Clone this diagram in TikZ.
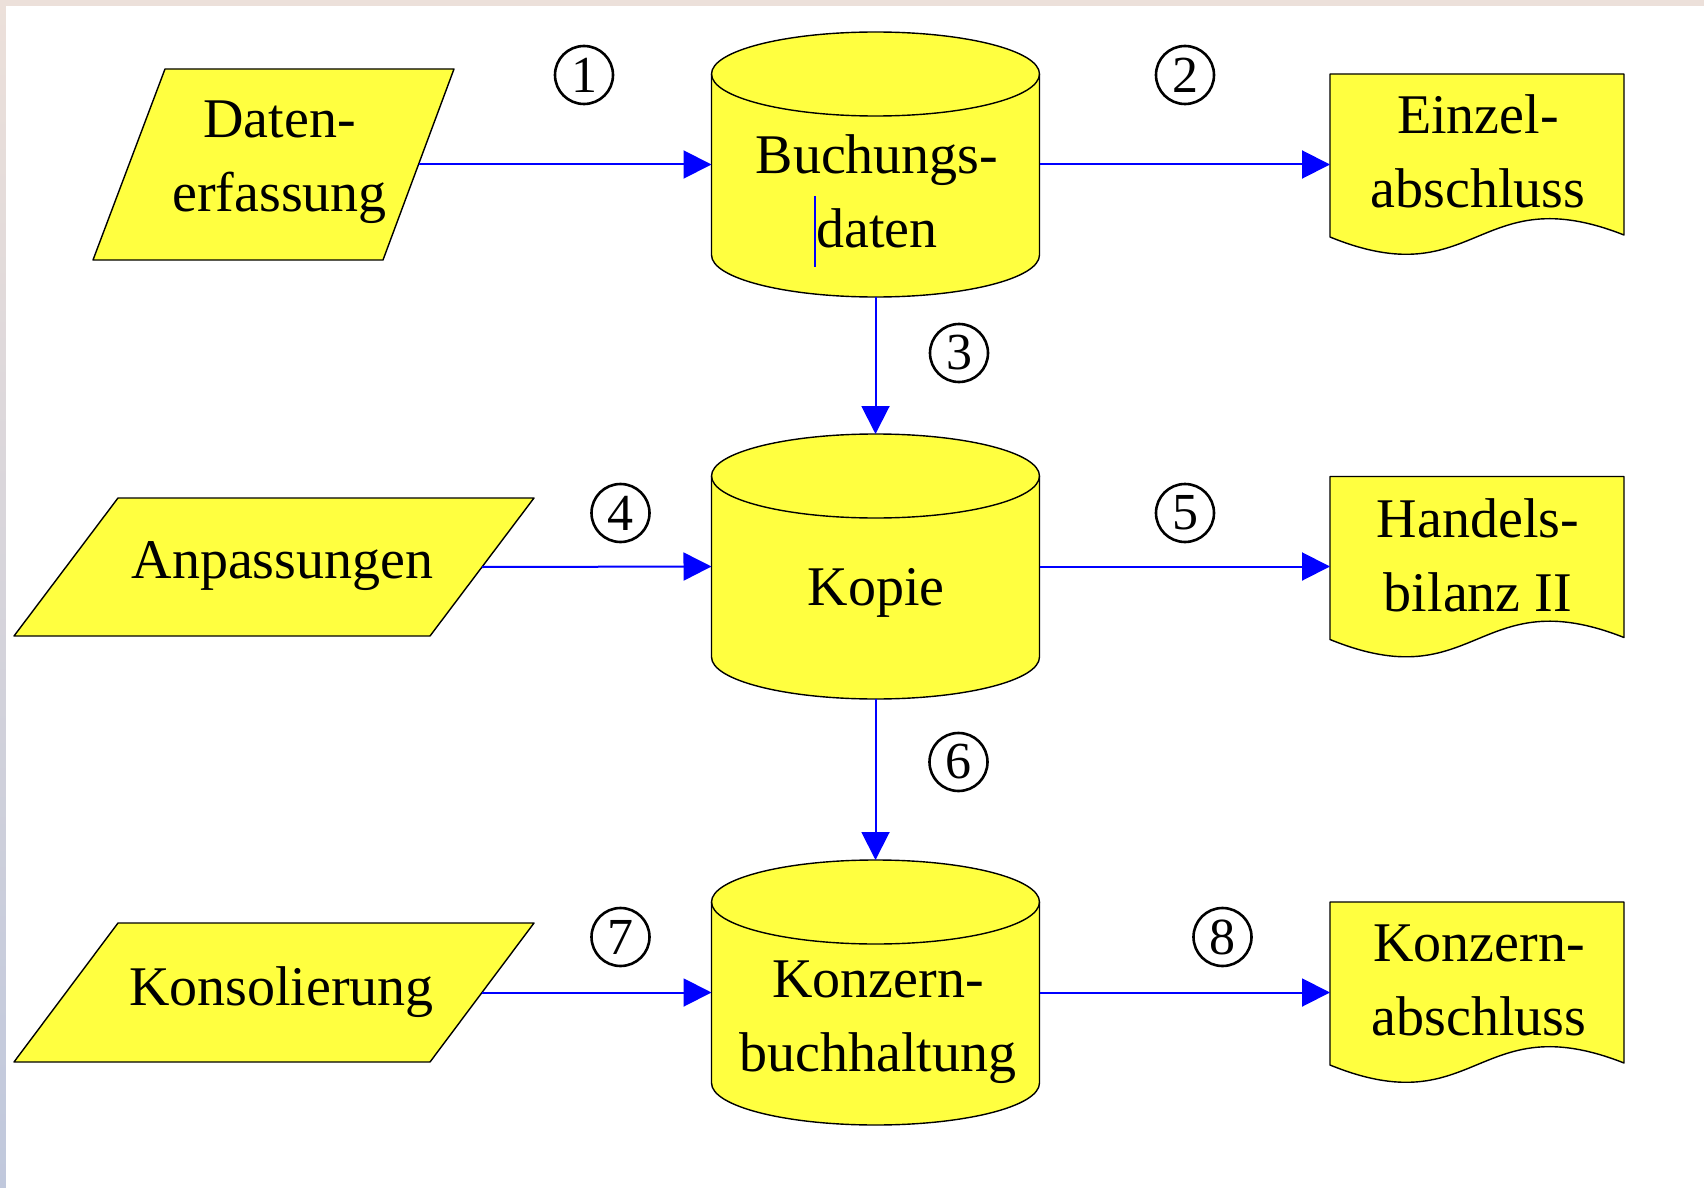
\documentclass[tikz,border=0pt]{standalone}
\usepackage{fontspec}
\setmainfont{Liberation Serif}
\usetikzlibrary{arrows.meta}

\definecolor{gelb}{RGB}{255,255,64}
\definecolor{pfeilblau}{RGB}{0,0,255}
\definecolor{randoben}{RGB}{236,224,218}
\definecolor{randunten}{RGB}{192,200,220}

\tikzset{
  form/.style={draw=black, line width=0.7pt, fill=gelb, line join=round},
  anker/.style={inner sep=0pt, outer sep=0pt},
  txt/.style={font=\fontsize{28}{37}\selectfont, align=center, inner sep=0pt},
  pfeil/.style={draw=pfeilblau, line width=1pt, -{Triangle[length=14pt,width=14pt]}},
  nr/.style={circle, draw, line width=1.3pt, minimum size=29pt, inner sep=0pt, font=\fontsize{26}{26}\selectfont}
}

% Datenbank: Name, Mittelpunkt
\newcommand\zylinder[2]{
  \draw[form,shift={(#2)}] (-164,-90.5) -- (-164,90.5)
    arc[start angle=180,end angle=360,x radius=82pt,y radius=21pt] -- (164,-90.5)
    arc[start angle=0,end angle=180,x radius=82pt,y radius=21pt] -- cycle;
  \draw[form,fill=none,shift={(#2)}] (-164,-90.5)
    arc[start angle=180,end angle=360,x radius=82pt,y radius=21pt];
  \node[anker,minimum width=164pt,minimum height=132.5pt] (#1) at (#2) {};
}

% Dokument: Name, Mittelpunkt
\newcommand\beleg[2]{
  \draw[form,shift={(#2)}] (-147,-81.5) -- (147,-81.5) -- (147,79.5)
    .. controls (0,21.5) and (0,141.5) .. (-147,81.5) -- cycle;
  \node[anker,minimum width=147pt,minimum height=81.5pt] (#1) at (#2) {};
}

\begin{document}
\begin{tikzpicture}[x=0.5pt,y=-0.5pt]
\useasboundingbox (0,0) rectangle (1704,1188);
\shade[top color=randoben,bottom color=randunten] (0,0) rectangle (1704,1188);
\fill[white] (6,6) rectangle (1704,1188);

% Eingaben
\draw[form] (165,69) -- (454,69) -- (383,260) -- (93,260) -- cycle;
\node[anker,minimum width=144.75pt,minimum height=95.5pt] (daten) at (274,164.5) {};
\draw[form] (118,498) -- (534,498) -- (430,636) -- (14,636) -- cycle;
\node[anker,minimum width=208pt,minimum height=69pt] (anpass) at (274,567) {};
\draw[form] (118,923) -- (534,923) -- (430,1062) -- (14,1062) -- cycle;
\node[anker,minimum width=208pt,minimum height=69.5pt] (konsol) at (274,992.5) {};

% Datenbanken
\zylinder{buch}{875.5,164.5}
\zylinder{kopie}{875.5,566.5}
\zylinder{konzern}{875.5,992.5}

% Ausgaben
\beleg{einzel}{1477,155.5}
\beleg{handel}{1477,558}
\beleg{kabschluss}{1477,983.5}

% Texte
\node[txt] (daten-text) at (279.5,162) {Daten-\\erfassung};
\node[txt] (buch-text) at (877,191) {Buchungs-\\daten};
\node[txt] (einzel-text) at (1478,151) {Einzel-\\abschluss};
\node[txt] (anpass-text) at (282.5,566.5) {Anpassungen};
\node[txt] (kopie-text) at (876,592.5) {Kopie};
\node[txt] (handel-text) at (1478,555) {Handels-\\bilanz II};
\node[txt] (konsol-text) at (281.5,992) {Konsolierung};
\node[txt] (konzern-text) at (878,1022) {Konzern-\\buchhaltung};
\node[txt] (kabschluss-text) at (1479,980.5) {Konzern-\\abschluss};
\draw[pfeilblau,line width=0.8pt] (815,196) -- (815,267);

% Pfeile
\draw[pfeil] (daten.east) -- (buch.west);
\draw[pfeil] (buch.east) -- (einzel.west |- buch.east);
\draw[pfeil] (buch.south) -- (kopie.north);
\draw[pfeil] (anpass.east) -- (kopie.west);
\draw[pfeil] (kopie.east) -- (handel.west |- kopie.east);
\draw[pfeil] (kopie.south) -- (konzern.north);
\draw[pfeil] (konsol.east) -- (konzern.west);
\draw[pfeil] (konzern.east) -- (kabschluss.west |- konzern.east);

% Nummern
\node[nr] (n1) at (584,75) {1};
\node[nr] (n2) at (1185,75) {2};
\node[nr] (n3) at (959,353) {3};
\node[nr] (n4) at (620.5,513) {4};
\node[nr] (n5) at (1185,513) {5};
\node[nr] (n6) at (958.5,762) {6};
\node[nr] (n7) at (620.5,937) {7};
\node[nr] (n8) at (1222.5,937) {8};
\end{tikzpicture}
\end{document}
